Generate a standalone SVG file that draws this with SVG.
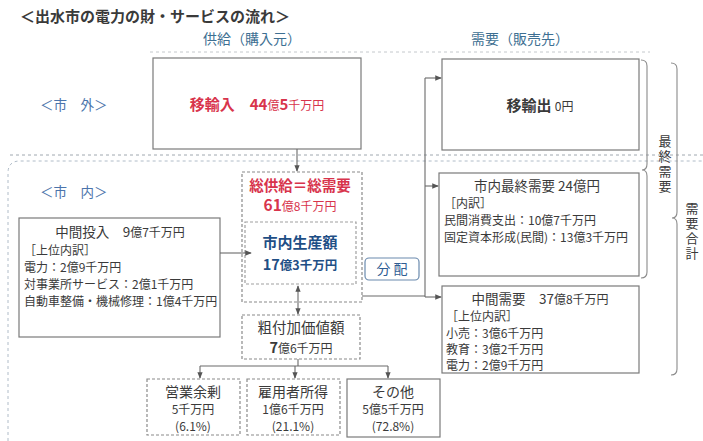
<svg xmlns="http://www.w3.org/2000/svg" width="703" height="441" viewBox="0 0 703 441">
<defs>
<style>
text{font-family:"Noto Sans CJK JP","Noto Sans",sans-serif;fill:#3a3a3a}
.box{fill:#fff;stroke:#7a7a7a;stroke-width:1.2}
.dbox{fill:#fff;stroke:#8a8a8a;stroke-width:1.2;stroke-dasharray:3 2}
.ln{fill:none;stroke:#6a6a6a;stroke-width:1.1}
.sep{fill:none;stroke:#9aa8b8;stroke-width:1;stroke-dasharray:3 3}
.red{fill:#d8344c}
.blue{fill:#1f4f86}
.hd{fill:#3d6f92;font-size:14px}
.lab{fill:#4b74ab;font-size:13.5px}
.t13{font-size:13.5px}
.t12{font-size:12px}
.c{text-anchor:middle}
.vt{writing-mode:vertical-rl;text-orientation:upright;font-size:13px;letter-spacing:2px}
</style>
<marker id="ar" viewBox="0 0 8 8" refX="7" refY="4" markerWidth="6" markerHeight="6" orient="auto-start-reverse">
<path d="M0 0.8 L8 4 L0 7.2 z" fill="#555"/>
</marker>
</defs>
<rect width="703" height="441" fill="#fff"/>

<text x="20" y="22" style="font-size:15px;font-weight:bold" fill="#333">＜出水市の電力の財・サービスの流れ＞</text>
<text class="hd c" x="252" y="44">供給（購入元）</text>
<text class="hd c" x="520" y="44">需要（販売先）</text>

<g id="regions">
<line class="sep" x1="150" y1="52" x2="650" y2="52" style="stroke:#c4c8cc"/>
<line class="sep" x1="10" y1="155" x2="703" y2="155" style="stroke:#a0a8b0"/>
<path class="sep" d="M8 441 V173 Q8 161 20 161 H703" style="stroke:#b0bcc8"/>
</g>

<g id="label-shigai"><text class="lab" x="40" y="110">＜市　外＞</text></g>
<g id="label-shinai"><text class="lab" x="40" y="197">＜市　内＞</text></g>

<g id="iyunyu">
<rect class="box" x="153" y="58" width="208" height="91"/>
<text class="red c" x="257" y="110" style="font-size:15px;font-weight:bold">移輸入　44<tspan style="font-size:12px;font-weight:normal">億</tspan>5<tspan style="font-size:12px;font-weight:normal">千万円</tspan></text>
</g>

<g id="soukyukyu">
<rect class="dbox" x="242" y="172" width="120" height="130"/>
<text class="red c" x="300" y="191" style="font-size:14.5px;font-weight:bold">総供給＝総需要</text>
<text class="red c" x="300" y="211" style="font-size:15.5px;font-weight:bold">61<tspan style="font-size:12px;font-weight:normal">億8千万円</tspan></text>
</g>

<g id="seisan">
<rect class="dbox" x="245" y="222" width="111" height="62" style="stroke:#a0a0a0"/>
<text class="blue c" x="300" y="248" style="font-size:15px;font-weight:bold">市内生産額</text>
<text class="blue c" x="300" y="270" style="font-size:14.5px;font-weight:bold">17<tspan style="font-size:12.5px">億3千万円</tspan></text>
</g>

<g id="chukan-tonyu">
<rect class="box" x="19" y="218" width="201" height="119"/>
<text class="t13 c" x="120" y="237">中間投入　9<tspan style="font-size:12px">億7千万円</tspan></text>
<text class="t12" x="24" y="255">［上位内訳］</text>
<text class="t12" x="24" y="272">電力：2億9千万円</text>
<text class="t12" x="24" y="289">対事業所サービス：2億1千万円</text>
<text class="t12" x="24" y="306">自動車整備・機械修理：1億4千万円</text>
</g>

<g id="bunpai">
<rect x="365" y="258" width="54" height="22" rx="4" fill="#fff" stroke="#6a8aae" stroke-width="1.2"/>
<text class="c" x="392" y="274" style="font-size:14px;fill:#2f5d93">分 配</text>
</g>

<g id="sofuka">
<rect class="dbox" x="242" y="315" width="118" height="44"/>
<text class="c" x="301" y="333" style="font-size:14.5px">粗付加価値額</text>
<text class="c" x="301" y="353" style="font-size:14.5px;font-weight:bold">7<tspan style="font-size:12px;font-weight:normal">億6千万円</tspan></text>
</g>

<g id="eigyo">
<rect class="dbox" x="147" y="379" width="93" height="56"/>
<text class="t13 c" x="193" y="397" style="font-size:14px">営業余剰</text>
<text class="t12 c" x="193" y="414">5千万円</text>
<text class="t12 c" x="193" y="431">(6.1%)</text>
</g>
<g id="koyo">
<rect class="dbox" x="247" y="379" width="93" height="56"/>
<text class="t13 c" x="293" y="397" style="font-size:14px">雇用者所得</text>
<text class="t12 c" x="293" y="414">1億6千万円</text>
<text class="t12 c" x="293" y="431">(21.1%)</text>
</g>
<g id="sonota">
<rect class="box" x="347" y="379" width="93" height="58"/>
<text class="t13 c" x="393" y="397" style="font-size:14px">その他</text>
<text class="t12 c" x="393" y="414">5億5千万円</text>
<text class="t12 c" x="393" y="431">(72.8%)</text>
</g>

<g id="iyushutsu">
<rect class="box" x="442" y="59" width="197" height="91"/>
<text class="c" x="540" y="111" style="font-size:15px;font-weight:bold">移輸出 <tspan style="font-size:12px;font-weight:normal">0円</tspan></text>
</g>

<g id="shinai-saishu">
<rect class="box" x="439" y="173" width="200" height="103"/>
<text class="t13 c" x="537" y="191">市内最終需要 24億円</text>
<text class="t12" x="444" y="208">［内訳］</text>
<text class="t12" x="444" y="225">民間消費支出：10億7千万円</text>
<text class="t12" x="444" y="242">固定資本形成(民間)：13億3千万円</text>
</g>

<g id="chukan-juyo">
<rect class="box" x="442" y="286" width="197" height="87"/>
<text class="t13 c" x="540" y="304">中間需要　37<tspan style="font-size:12px">億8千万円</tspan></text>
<text class="t12" x="446" y="321">［上位内訳］</text>
<text class="t12" x="446" y="338">小売：3億6千万円</text>
<text class="t12" x="446" y="354">教育：3億2千万円</text>
<text class="t12" x="446" y="370">電力：2億9千万円</text>
</g>

<g id="brackets">
<path class="ln" d="M641 60 Q647 60 647 66 V164 Q647 170 642 170 Q647 170 647 176 V272 Q647 278 641 278" style="stroke:#8a8a8a"/>
<text class="vt" x="665" y="135">最終需要</text>
<path class="ln" d="M671 63 Q677 63 677 69 V212 Q677 218 672 218 Q677 218 677 224 V369 Q677 375 671 375" style="stroke:#8a8a8a"/>
<text class="vt" x="692" y="202">需要合計</text>
</g>

<g id="connectors">
<path class="ln" d="M297 149 V171" marker-end="url(#ar)"/>
<path class="ln" d="M220 253 H251" marker-end="url(#ar)"/>
<path class="ln" d="M298 286 V314" marker-start="url(#ar)" marker-end="url(#ar)"/>
<path class="ln" d="M362 296 H425"/>
<path class="ln" d="M425 297 V78"/>
<path class="ln" d="M425 78 H441" marker-end="url(#ar)"/>
<path class="ln" d="M425 186 H438" marker-end="url(#ar)"/>
<path class="ln" d="M425 297 H441" marker-end="url(#ar)"/>
<path class="ln" d="M298 359 V366 M200 366 H388"/>
<path class="ln" d="M200 366 V378" marker-end="url(#ar)"/>
<path class="ln" d="M295 366 V378" marker-end="url(#ar)"/>
<path class="ln" d="M388 366 V378" marker-end="url(#ar)"/>
</g>
</svg>
